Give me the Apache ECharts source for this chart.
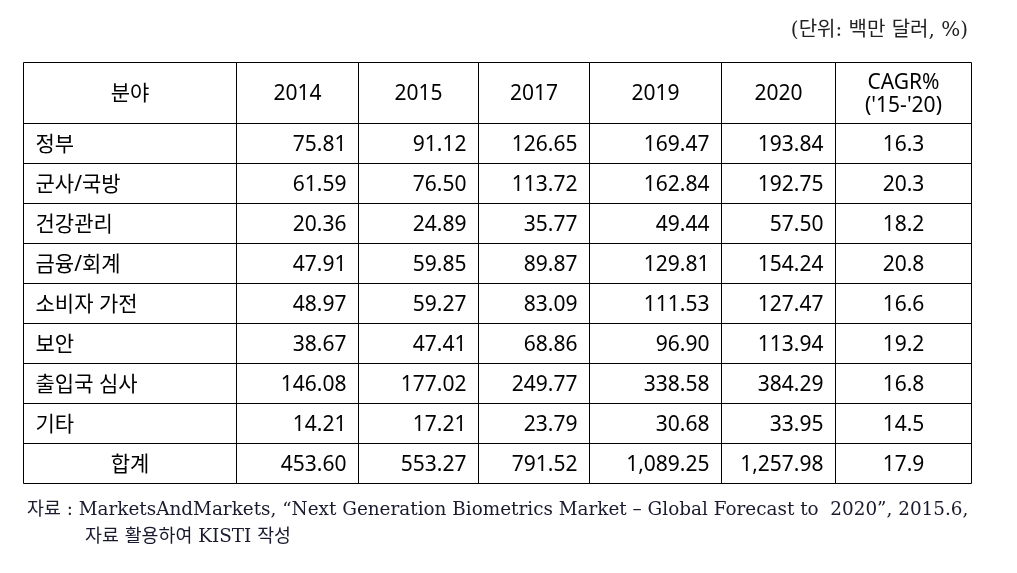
<!DOCTYPE html>
<html><head><meta charset="utf-8">
<script src="https://cdn.jsdelivr.net/npm/echarts@6/dist/echarts.min.js"></script>
<style>html,body{margin:0;padding:0;background:#fff}#c{width:1017px;height:573px}</style>
</head><body><div id="c"></div>
<script>
// ---- data ----
const headers = ['분야', '2014', '2015', '2017', '2019', '2020', "CAGR%\n('15-'20)"];
const categories = ['정부', '군사/국방', '건강관리', '금융/회계', '소비자 가전', '보안', '출입국 심사', '기타'];
const v2014 = [75.81, 61.59, 20.36, 47.91, 48.97, 38.67, 146.08, 14.21];
const v2015 = [91.12, 76.50, 24.89, 59.85, 59.27, 47.41, 177.02, 17.21];
const v2017 = [126.65, 113.72, 35.77, 89.87, 83.09, 68.86, 249.77, 23.79];
const v2019 = [169.47, 162.84, 49.44, 129.81, 111.53, 96.90, 338.58, 30.68];
const v2020 = [193.84, 192.75, 57.50, 154.24, 127.47, 113.94, 384.29, 33.95];
const cagr = [16.3, 20.3, 18.2, 20.8, 16.6, 19.2, 16.8, 14.5];
const totalLabel = '합계';
const totals = [453.60, 553.27, 791.52, 1089.25, 1257.98];
const totalCagr = 17.9;
const unitText = '(단위: 백만 달러, %)';
const sourceLine1 = '자료 : MarketsAndMarkets, “Next Generation Biometrics Market – Global Forecast to  2020”, 2015.6,';
const sourceLine2 = '자료 활용하여 KISTI 작성';

// ---- layout (table coordinate space) ----
const colEdges = [0, 213, 335, 455, 566, 698, 812, 948];
const rowEdges = [0, 61, 101, 141, 181, 221, 261, 301, 341, 381, 421];

function fmt2(v) {
  return v.toLocaleString('en-US', {minimumFractionDigits: 2, maximumFractionDigits: 2});
}
const cells = [];
headers.forEach((h, c) => cells.push([c, 0, h, 'center']));
const yearCols = [v2014, v2015, v2017, v2019, v2020];
categories.forEach((name, i) => {
  cells.push([0, i + 1, name, 'left']);
  yearCols.forEach((arr, j) => cells.push([j + 1, i + 1, fmt2(arr[i]), 'right']));
  cells.push([6, i + 1, cagr[i].toFixed(1), 'center']);
});
const tr = categories.length + 1;
cells.push([0, tr, totalLabel, 'center']);
totals.forEach((v, j) => cells.push([j + 1, tr, fmt2(v), 'right']));
cells.push([6, tr, totalCagr.toFixed(1), 'center']);

const FONT = "'Noto Sans', 'Noto Sans CJK KR', sans-serif";
const SERIF = "'DejaVu Serif', 'Noto Sans CJK KR', serif";

const chart = echarts.init(document.getElementById('c'));
chart.setOption({
  backgroundColor: '#fff',
  animation: false,
  grid: {left: 23, top: 62, width: 948, height: 421},
  xAxis: {type: 'value', min: 0, max: 948, show: false},
  yAxis: {type: 'value', min: 0, max: 421, inverse: true, show: false},
  series: [{
    type: 'custom',
    data: cells.map(c => [c[0], c[1]]),
    renderItem: function (params, api) {
      const cell = cells[params.dataIndex];
      const c = cell[0], r = cell[1];
      const p0 = api.coord([colEdges[c], rowEdges[r]]);
      const p1 = api.coord([colEdges[c + 1], rowEdges[r + 1]]);
      const x0 = Math.round(p0[0]) + 0.5, y0 = Math.round(p0[1]) + 0.5;
      const x1 = Math.round(p1[0]) + 0.5, y1 = Math.round(p1[1]) + 0.5;
      const align = cell[3];
      let tx = (x0 + x1) / 2;
      if (align === 'left') tx = x0 + 12;
      if (align === 'right') tx = x1 - 12;
      return {
        type: 'group',
        children: [
          {type: 'rect', shape: {x: x0, y: y0, width: x1 - x0, height: y1 - y0},
            style: {fill: 'none', stroke: '#000', lineWidth: 1}},
          {type: 'text', x: tx, y: (y0 + y1) / 2 + 1.5,
            style: {text: cell[2], align: align, verticalAlign: 'middle',
              fontFamily: FONT, fontSize: 21, lineHeight: 23, fill: '#000'}}
        ]
      };
    }
  }],
  graphic: [
    {type: 'text', x: 968, y: 31,
      style: {text: unitText, align: 'right', verticalAlign: 'middle', fontFamily: SERIF, fontSize: 20, fill: '#222'}},
    {type: 'text', x: 27, y: 510,
      style: {text: sourceLine1, verticalAlign: 'middle', fontFamily: SERIF, fontSize: 18.4, fill: '#1a1a2e'}},
    {type: 'text', x: 85, y: 537,
      style: {text: sourceLine2, verticalAlign: 'middle', fontFamily: SERIF, fontSize: 18.4, fill: '#1a1a2e'}}
  ]
});
</script></body></html>
